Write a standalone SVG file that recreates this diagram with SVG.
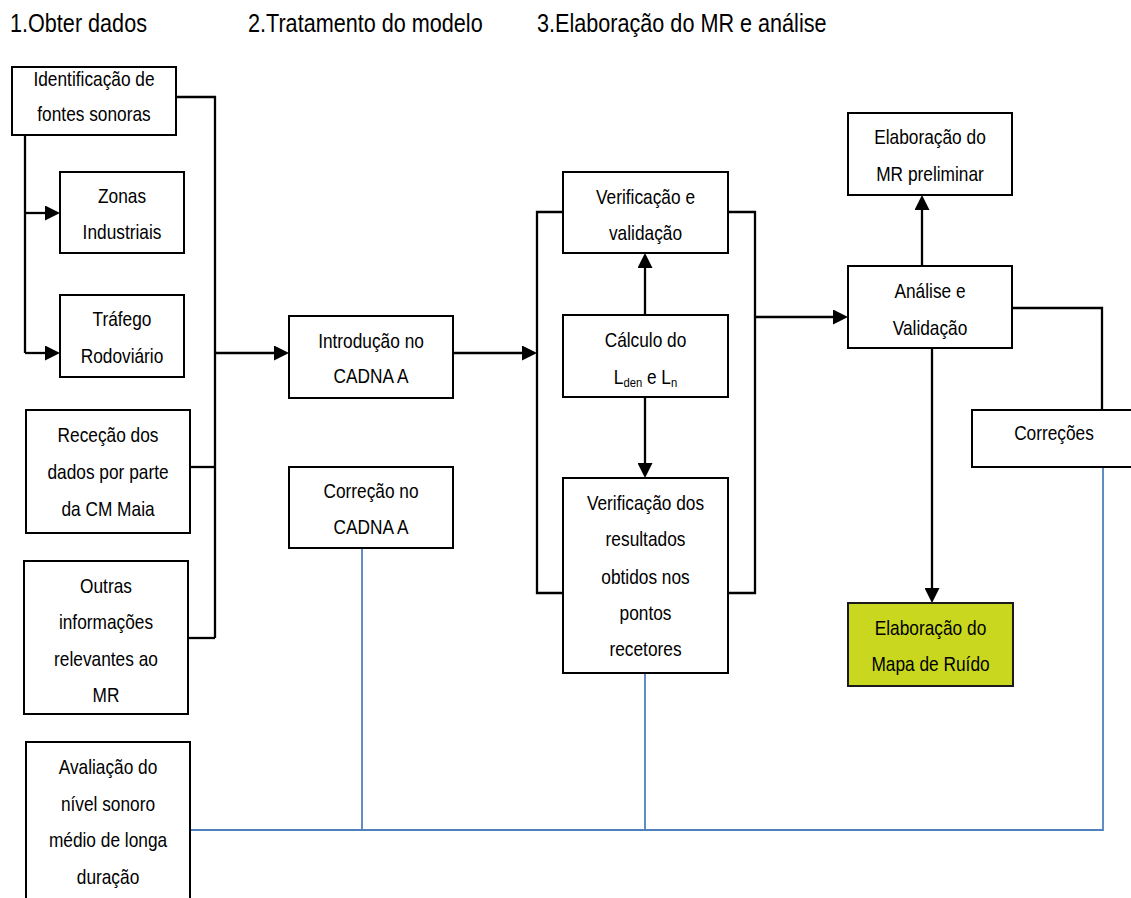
<svg xmlns="http://www.w3.org/2000/svg" width="1131" height="898" viewBox="0 0 1131 898">
<style>
.t{font-family:"Liberation Sans",Arial,sans-serif;font-size:20px;fill:#000;}
.h{font-family:"Liberation Sans",Arial,sans-serif;font-size:25px;fill:#000;}
.box{fill:#fff;stroke:#000;stroke-width:2;}
.hl{fill:#C9D81E;stroke:#1a1a1a;stroke-width:2;}
.c{fill:none;stroke:#000;stroke-width:2.3;}
.b{fill:none;stroke:#4F81BD;stroke-width:1.8;}
.a{marker-end:url(#ah);}
</style>
<defs>
<marker id="ah" viewBox="0 0 15 15" refX="7" refY="7.5" markerWidth="15" markerHeight="15" orient="auto" markerUnits="userSpaceOnUse"><path d="M0,0 L15,7.5 L0,15 z" fill="#000"/></marker>
</defs>
<rect width="1131" height="898" fill="#fff"/>
<g id="titles">
<text class="h" transform="translate(10 0) scale(0.865 1)" x="0" y="32">1.Obter dados</text>
<text class="h" transform="translate(248 0) scale(0.865 1)" x="0" y="32">2.Tratamento do modelo</text>
<text class="h" transform="translate(537 0) scale(0.865 1)" x="0" y="32">3.Elaboração do MR e análise</text>
</g>
<g id="connectors">
<path class="c" d="M176,97 H215 V638"/>
<path class="c" d="M25,135 V353"/>
<path class="c a" d="M25,213 H52"/>
<path class="c a" d="M25,353 H52"/>
<path class="c" d="M190,467 H215"/>
<path class="c" d="M188,638 H215"/>
<path class="c a" d="M215,353 H281"/>
<path class="c a" d="M453,353 H529"/>
<path class="c" d="M563,212 H537 V593 H563"/>
<path class="c" d="M728,212 H755 V593 H728"/>
<path class="c a" d="M645,315 V261"/>
<path class="c a" d="M645,397 V470"/>
<path class="c a" d="M755,317 H840"/>
<path class="c a" d="M922,266 V203"/>
<path class="c a" d="M932,348 V595"/>
<path class="c" d="M1012,308 H1102 V410"/>
<path class="b" d="M190,830 H1103 V467"/>
<path class="b" d="M362,548 V830"/>
<path class="b" d="M645,673 V830"/>
</g>
<g id="n-identificacao">
<rect class="box" x="12" y="67" width="164" height="68"/>
<text class="t" transform="translate(94 0) scale(0.865 1)" text-anchor="middle"><tspan x="0" y="86">Identificação de</tspan><tspan x="0" y="121">fontes sonoras</tspan></text>
</g>
<g id="n-zonas">
<rect class="box" x="60" y="172" width="124" height="81"/>
<text class="t" transform="translate(122 0) scale(0.865 1)" text-anchor="middle"><tspan x="0" y="203">Zonas</tspan><tspan x="0" y="239">Industriais</tspan></text>
</g>
<g id="n-trafego">
<rect class="box" x="60" y="295" width="124" height="82"/>
<text class="t" transform="translate(122 0) scale(0.865 1)" text-anchor="middle"><tspan x="0" y="326">Tráfego</tspan><tspan x="0" y="363">Rodoviário</tspan></text>
</g>
<g id="n-rececao">
<rect class="box" x="26" y="410" width="164" height="123"/>
<text class="t" transform="translate(108 0) scale(0.865 1)" text-anchor="middle"><tspan x="0" y="442">Receção dos</tspan><tspan x="0" y="479">dados por parte</tspan><tspan x="0" y="516">da CM Maia</tspan></text>
</g>
<g id="n-outras">
<rect class="box" x="24" y="561" width="164" height="153"/>
<text class="t" transform="translate(106 0) scale(0.865 1)" text-anchor="middle"><tspan x="0" y="593">Outras</tspan><tspan x="0" y="629">informações</tspan><tspan x="0" y="666">relevantes ao</tspan><tspan x="0" y="702">MR</tspan></text>
</g>
<g id="n-avaliacao">
<rect class="box" x="26" y="742" width="164" height="170"/>
<text class="t" transform="translate(108 0) scale(0.865 1)" text-anchor="middle"><tspan x="0" y="774">Avaliação do</tspan><tspan x="0" y="811">nível sonoro</tspan><tspan x="0" y="847">médio de longa</tspan><tspan x="0" y="884">duração</tspan></text>
</g>
<g id="n-introducao">
<rect class="box" x="289" y="316" width="164" height="82"/>
<text class="t" transform="translate(371 0) scale(0.865 1)" text-anchor="middle"><tspan x="0" y="348">Introdução no</tspan><tspan x="0" y="383">CADNA A</tspan></text>
</g>
<g id="n-correcao">
<rect class="box" x="289" y="467" width="164" height="81"/>
<text class="t" transform="translate(371 0) scale(0.865 1)" text-anchor="middle"><tspan x="0" y="498">Correção no</tspan><tspan x="0" y="534">CADNA A</tspan></text>
</g>
<g id="n-verificacao-validacao">
<rect class="box" x="563" y="172" width="165" height="81"/>
<text class="t" transform="translate(645.5 0) scale(0.865 1)" text-anchor="middle"><tspan x="0" y="204">Verificação e</tspan><tspan x="0" y="240">validação</tspan></text>
</g>
<g id="n-calculo">
<rect class="box" x="563" y="315" width="165" height="82"/>
<text class="t" transform="translate(645.5 0) scale(0.865 1)" text-anchor="middle"><tspan x="0" y="347">Cálculo do</tspan><tspan x="0" y="384">L</tspan><tspan font-size="13" dy="3">den</tspan><tspan dy="-3"> e L</tspan><tspan font-size="13" dy="3">n</tspan></text>
</g>
<g id="n-verificacao-resultados">
<rect class="box" x="563" y="478" width="165" height="195"/>
<text class="t" transform="translate(645.5 0) scale(0.865 1)" text-anchor="middle"><tspan x="0" y="510">Verificação dos</tspan><tspan x="0" y="546">resultados</tspan><tspan x="0" y="584">obtidos nos</tspan><tspan x="0" y="620">pontos</tspan><tspan x="0" y="656">recetores</tspan></text>
</g>
<g id="n-mr-preliminar">
<rect class="box" x="848" y="113" width="164" height="82"/>
<text class="t" transform="translate(930 0) scale(0.865 1)" text-anchor="middle"><tspan x="0" y="144">Elaboração do</tspan><tspan x="0" y="181">MR preliminar</tspan></text>
</g>
<g id="n-analise">
<rect class="box" x="848" y="266" width="164" height="82"/>
<text class="t" transform="translate(930 0) scale(0.865 1)" text-anchor="middle"><tspan x="0" y="298">Análise e</tspan><tspan x="0" y="335">Validação</tspan></text>
</g>
<g id="n-correcoes">
<rect class="box" x="972" y="410" width="164" height="57"/>
<text class="t" transform="translate(1054 0) scale(0.865 1)" text-anchor="middle"><tspan x="0" y="440">Correções</tspan></text>
</g>
<g id="n-mapa">
<rect class="hl" x="848" y="603" width="165" height="83"/>
<text class="t" transform="translate(930.5 0) scale(0.865 1)" text-anchor="middle"><tspan x="0" y="635">Elaboração do</tspan><tspan x="0" y="671">Mapa de Ruído</tspan></text>
</g>
</svg>
